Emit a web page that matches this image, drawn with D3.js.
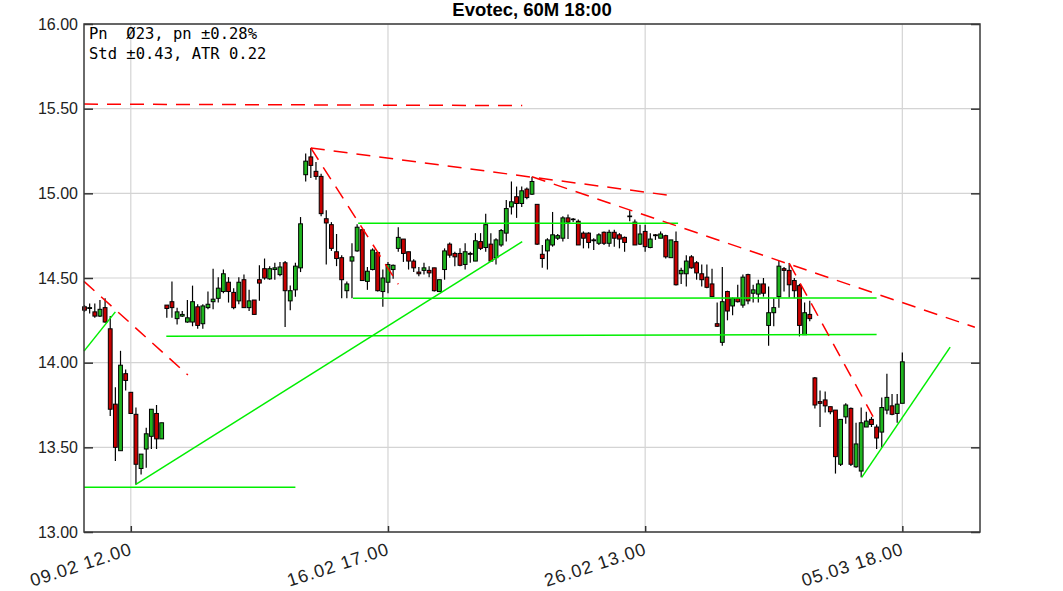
<!DOCTYPE html>
<html><head><meta charset="utf-8">
<script src="https://cdn.jsdelivr.net/npm/d3@7"></script>
<style>body{margin:0;background:#fff} svg{display:block}</style>
</head><body><svg id="c" width="1063" height="591"></svg>
<script>
// ---- data ----
const opens=[14.33,14.32,14.30,14.275,14.325,14.20,13.755,13.48,13.935,13.825,
13.695,13.375,13.49,13.565,13.70,13.55,14.34,14.36,14.26,14.275,
14.24,14.24,14.33,14.23,14.325,14.36,14.38,14.42,14.475,14.415,
14.365,14.49,14.325,14.37,14.49,14.555,14.495,14.55,14.52,14.59,
14.365,14.43,14.56,15.11,15.215,15.13,15.10,14.85,14.815,14.655,
14.62,14.425,14.60,14.66,14.785,14.48,14.55,14.65,14.42,14.475,
14.55,14.675,14.73,14.655,14.60,14.535,14.545,14.545,14.56,14.42,
14.55,14.70,14.645,14.645,14.58,14.645,14.60,14.715,14.68,14.70,
14.62,14.695,14.765,14.92,14.98,14.94,15.025,14.995,14.935,14.64,
14.66,14.695,14.735,14.735,14.855,14.845,14.835,14.765,14.765,14.725,
14.705,14.77,14.705,14.77,14.755,14.74,14.862,14.83,14.70,14.775,
14.68,14.755,14.735,14.75,14.62,14.715,14.525,14.525,14.625,14.59,
14.525,14.505,14.465,14.23,14.12,14.42,14.335,14.38,14.34,14.52,
14.41,14.405,14.465,14.22,14.295,14.39,14.555,14.545,14.485,14.455,
14.165,14.285,13.91,13.77,13.78,13.74,13.72,13.40,13.68,13.73,
13.385,13.36,13.62,13.665,13.62,13.59,13.72,13.745,13.70,13.76];
const highs=[14.34,14.35,14.35,14.37,14.38,14.275,13.855,14.07,13.96,13.825,
13.735,13.46,13.615,13.725,13.75,13.645,14.34,14.48,14.325,14.305,
14.37,14.455,14.345,14.345,14.42,14.555,14.505,14.55,14.505,14.44,
14.505,14.52,14.43,14.37,14.575,14.615,14.57,14.59,14.595,14.60,
14.455,14.59,14.86,15.235,15.268,15.185,15.115,14.90,14.83,14.76,
14.635,14.48,14.705,14.817,14.79,14.565,14.675,14.655,14.55,14.595,
14.58,14.80,14.73,14.655,14.61,14.565,14.59,14.57,14.56,14.49,
14.675,14.71,14.655,14.675,14.705,14.655,14.765,14.765,14.88,14.765,
14.735,14.79,14.96,15.07,15.04,15.04,15.035,15.098,14.935,14.695,
14.735,14.89,14.76,14.865,14.875,14.855,14.845,14.775,14.77,14.735,
14.765,14.775,14.785,14.785,14.765,14.745,14.90,14.845,14.815,14.815,
14.765,14.76,14.775,14.755,14.725,14.775,14.56,14.635,14.635,14.60,
14.58,14.58,14.555,14.355,14.565,14.425,14.385,14.46,14.52,14.525,
14.46,14.49,14.50,14.45,14.38,14.60,14.565,14.588,14.50,14.465,
14.355,14.365,13.915,13.835,13.83,13.74,13.72,13.665,13.76,13.735,
13.645,13.735,13.71,13.68,13.635,13.795,13.935,13.815,13.815,14.06];
const lows=[14.30,14.29,14.265,14.27,14.235,13.685,13.42,13.48,13.835,13.70,
13.28,13.34,13.38,13.49,13.49,13.55,14.265,14.265,14.225,14.27,
14.235,14.215,14.20,14.20,14.315,14.315,14.355,14.41,14.355,14.315,
14.345,14.325,14.305,14.285,14.365,14.49,14.49,14.49,14.51,14.21,
14.31,14.39,14.535,15.07,15.09,15.08,14.865,14.58,14.66,14.57,
14.38,14.38,14.38,14.655,14.485,14.43,14.545,14.42,14.33,14.41,
14.495,14.655,14.595,14.55,14.535,14.51,14.52,14.505,14.42,14.42,
14.49,14.62,14.57,14.57,14.55,14.59,14.60,14.665,14.655,14.60,
14.58,14.685,14.715,14.875,14.855,14.92,14.965,14.99,14.695,14.56,
14.55,14.685,14.725,14.715,14.73,14.83,14.695,14.675,14.675,14.665,
14.695,14.695,14.685,14.685,14.675,14.655,14.835,14.695,14.695,14.655,
14.675,14.725,14.735,14.615,14.62,14.455,14.465,14.45,14.555,14.49,
14.45,14.44,14.39,14.21,14.10,14.25,14.28,14.355,14.325,14.345,
14.355,14.355,14.39,14.10,14.215,14.325,14.42,14.385,14.38,14.155,
14.165,14.245,13.73,13.62,13.705,13.695,13.345,13.39,13.64,13.39,
13.38,13.323,13.62,13.62,13.49,13.50,13.695,13.69,13.645,13.76];
const closes=[14.31,14.325,14.275,14.315,14.24,13.725,13.50,13.985,13.895,13.70,
13.40,13.46,13.58,13.725,13.55,13.645,14.32,14.325,14.30,14.285,
14.265,14.36,14.22,14.335,14.345,14.375,14.44,14.525,14.42,14.325,
14.475,14.325,14.365,14.285,14.47,14.50,14.555,14.56,14.565,14.425,
14.425,14.57,14.82,15.19,15.165,15.10,14.88,14.825,14.675,14.615,
14.49,14.465,14.625,14.80,14.485,14.54,14.665,14.425,14.50,14.58,
14.575,14.74,14.645,14.60,14.56,14.525,14.56,14.53,14.425,14.49,
14.66,14.635,14.625,14.575,14.655,14.64,14.72,14.675,14.815,14.60,
14.725,14.78,14.91,14.95,14.94,15.015,14.975,15.07,14.70,14.615,
14.725,14.755,14.75,14.855,14.83,14.848,14.695,14.735,14.71,14.72,
14.755,14.705,14.77,14.735,14.73,14.71,14.866,14.695,14.76,14.685,
14.73,14.75,14.76,14.625,14.725,14.46,14.545,14.60,14.56,14.53,
14.49,14.445,14.39,14.215,14.36,14.305,14.38,14.36,14.505,14.365,
14.43,14.465,14.41,14.295,14.325,14.57,14.545,14.46,14.425,14.22,
14.295,14.26,13.75,13.76,13.745,13.71,13.445,13.665,13.75,13.40,
13.52,13.645,13.655,13.635,13.555,13.735,13.795,13.695,13.755,14.005];
const tickIdx=[9,59,109,159];
const tickLabels=["09.02 12.00","16.02 17.00","26.02 13.00","05.03 18.00"];
const yTicks=[13,13.5,14,14.5,15,15.5,16];
// trend lines: [index1, price1, index2, price2]
const redLines=[[-0.1,15.527,85.1,15.518],[44,15.268,114.8,14.984],[44,15.268,61,14.463],
[87,15.098,173.1,14.209],[137,14.588,154.1,13.637],[-0.1,14.48,20.1,13.927]];
const greenLines=[[-0.1,13.265,41,13.265],[9.9,13.28,85.1,14.715],[15.9,14.156,154,14.166],
[52.2,14.38,154,14.382],[53.2,14.824,115.4,14.824],[-0.1,14.068,6.0,14.30],[151.1,13.323,168.3,14.092]];
const title="Evotec, 60M 18:00";
const infoLines=["Pn  Ø23, pn ±0.28%","Std ±0.43, ATR 0.22"];

// ---- chart ----
const L=84,R=980,T=24,B=532;
const svg=d3.select("#c");
const x=d3.scaleLinear().domain([-0.1,174.1]).range([L,R]);
const y=d3.scaleLinear().domain([13,16]).range([B,T]);
const candles=d3.range(opens.length).map(i=>({i,o:opens[i],h:highs[i],l:lows[i],c:closes[i]}));

// grid
const g=svg.append("g");
g.selectAll(".hg").data(yTicks).join("line").attr("x1",L).attr("x2",R)
 .attr("y1",d=>y(d)).attr("y2",d=>y(d)).attr("stroke","#d4d4d4").attr("stroke-width",1.2);
g.selectAll(".vg").data(tickIdx).join("line").attr("y1",T).attr("y2",B)
 .attr("x1",d=>x(d)).attr("x2",d=>x(d)).attr("stroke","#d4d4d4").attr("stroke-width",1.2);

// info text
svg.selectAll(".info").data(infoLines).join("text")
 .attr("x",89).attr("y",(d,k)=>39+k*20).attr("font-family","DejaVu Sans Mono")
 .attr("font-size","15.5px").attr("fill","#000").style("white-space","pre").text(d=>d);

// candles
const cg=svg.append("g");
cg.selectAll(".w").data(candles).join("line").attr("x1",d=>x(d.i)).attr("x2",d=>x(d.i))
 .attr("y1",d=>y(d.h)).attr("y2",d=>y(d.l)).attr("stroke","#000").attr("stroke-width",1.2);
cg.selectAll(".b").data(candles).join("rect")
 .attr("x",d=>x(d.i)-1.9).attr("width",3.8)
 .attr("y",d=>y(Math.max(d.o,d.c)))
 .attr("height",d=>Math.max(0.6,y(Math.min(d.o,d.c))-y(Math.max(d.o,d.c))))
 .attr("fill",d=>d.c>=d.o?"#1fb51f":"#c80000").attr("stroke","#000").attr("stroke-width",1);

// trend lines
svg.selectAll(".gl").data(greenLines).join("line")
 .attr("x1",d=>x(d[0])).attr("y1",d=>y(d[1])).attr("x2",d=>x(d[2])).attr("y2",d=>y(d[3]))
 .attr("stroke","#00ee00").attr("stroke-width",1.5);
svg.selectAll(".rl").data(redLines).join("line")
 .attr("x1",d=>x(d[0])).attr("y1",d=>y(d[1])).attr("x2",d=>x(d[2])).attr("y2",d=>y(d[3]))
 .attr("stroke","#ff0000").attr("stroke-width",1.5).attr("stroke-dasharray","14,9");

// axes
const fmt=d3.format(".2f");
const ya=svg.append("g").attr("transform",`translate(${L},0)`)
 .call(d3.axisLeft(y).tickValues(yTicks).tickFormat(fmt).tickSize(-9).tickPadding(6));
const yr=svg.append("g").attr("transform",`translate(${R},0)`)
 .call(d3.axisRight(y).tickValues(yTicks).tickFormat("").tickSize(-9));
const xa=svg.append("g").attr("transform",`translate(0,${B})`)
 .call(d3.axisBottom(x).tickValues(tickIdx).tickFormat((d,k)=>tickLabels[k]).tickSize(-6).tickPadding(0));
[ya,yr,xa].forEach(a=>{a.select(".domain").remove();a.selectAll("line").attr("stroke","#333").attr("stroke-width",1.5);});
ya.selectAll("text").attr("font-family","Liberation Sans, Arial").attr("font-size","16px").attr("fill","#222");
xa.selectAll("text").attr("font-family","Liberation Sans, Arial").attr("font-size","18px").attr("fill","#222")
 .attr("letter-spacing","1px")
 .attr("text-anchor","end").attr("dy",0).attr("y",0)
 .attr("transform","translate(2,22) rotate(-18)");

// frame
svg.append("rect").attr("x",L).attr("y",T).attr("width",R-L).attr("height",B-T)
 .attr("fill","none").attr("stroke","#3a3a3a").attr("stroke-width",1.5);

// title
svg.append("text").attr("x",(L+R)/2).attr("y",16).attr("text-anchor","middle")
 .attr("font-family","Liberation Sans, Arial").attr("font-weight","bold").attr("font-size","18.5px")
 .attr("fill","#000").text(title);
</script></body></html>
